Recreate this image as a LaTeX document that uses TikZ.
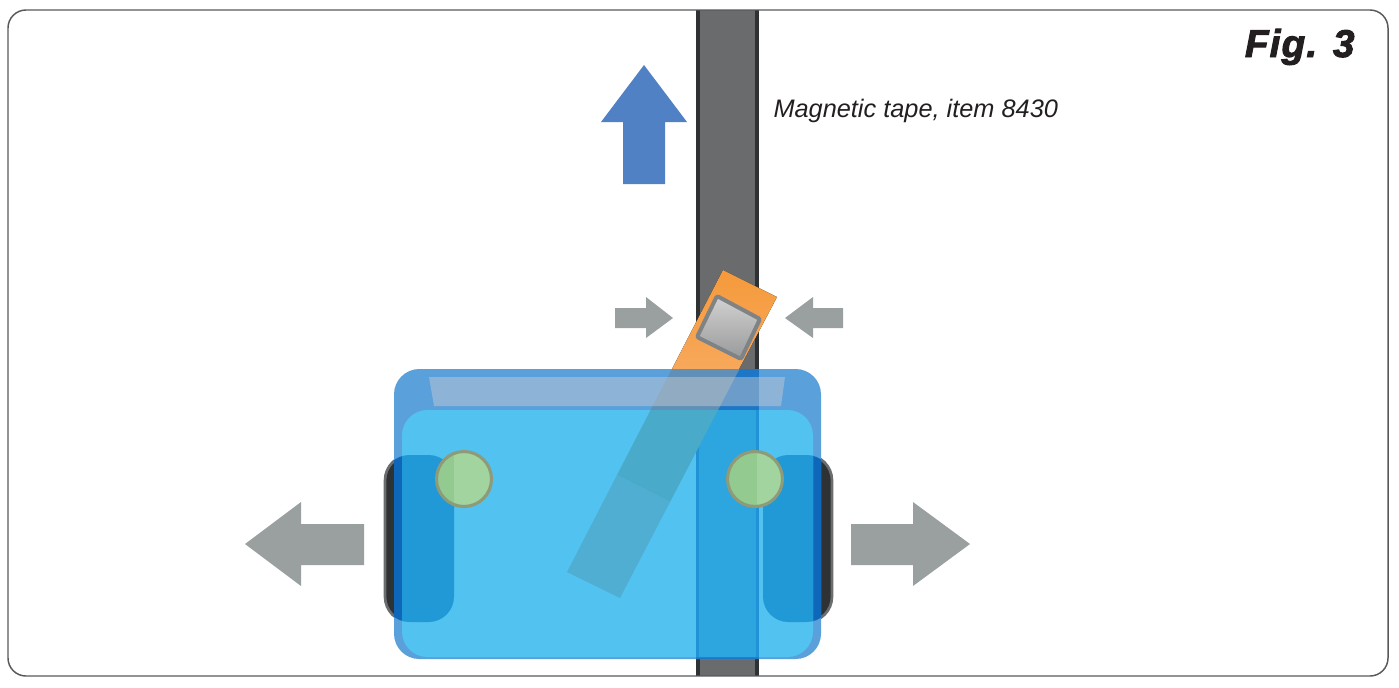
\documentclass[tikz,border=0pt]{standalone}
\usepackage{fontspec}
\setmainfont{Liberation Sans}
\definecolor{framegrey}{HTML}{58595B}
\definecolor{tapegrey}{HTML}{696B6C}
\definecolor{tapedark}{HTML}{2F3234}
\definecolor{tabedge}{HTML}{6C6D6E}
\definecolor{arrowgrey}{HTML}{9A9FA0}
\definecolor{arrowblue}{HTML}{4F81C4}
\definecolor{bodyouter}{HTML}{5AA0DB}
\definecolor{bodyinner}{HTML}{52C2F0}
\definecolor{tapeouter}{HTML}{1E76C6}
\definecolor{tapeinner}{HTML}{2DA5DF}
\definecolor{tapeline}{HTML}{1F93D5}
\definecolor{tabouter}{HTML}{0F67B9}
\definecolor{tabinner}{HTML}{2099D6}
\definecolor{strapouter}{HTML}{6090B8}
\definecolor{strapupper}{HTML}{49AAC9}
\definecolor{straplower}{HTML}{50AED3}
\definecolor{straptop}{HTML}{F59A3C}
\definecolor{strapbottom}{HTML}{F7A85A}
\definecolor{dotfill}{HTML}{A1D49E}
\definecolor{dotshade}{HTML}{93CA90}
\definecolor{dotedge}{HTML}{8E9A78}
\definecolor{sensoredge}{HTML}{808386}
\definecolor{sensortop}{HTML}{D2D2D2}
\definecolor{sensorbottom}{HTML}{98999A}
\definecolor{glare}{HTML}{CCCCD0}
\definecolor{inktext}{HTML}{231F20}
\tikzset{every picture/.style={line width=0.75pt}}
\tikzset{
  greyarrow/.style={fill=arrowgrey},
  tabshape/.style={fill=tapedark,draw=tabedge,line width=2pt,rounded corners=19pt},
  bodycorner/.style={rounded corners=19pt},
  dotshape/.style={draw=dotedge,line width=2.3pt}
}

\begin{document}
\begin{tikzpicture}[x=0.75pt,y=0.75pt,yscale=-1,xscale=1]
	\useasboundingbox (0,0) rectangle (1399,687);

	%Shape: Tape
	\fill[tapedark] (696,10) rectangle (759,676);
	\fill[tapegrey] (700,10) rectangle (755,676);
	%Shape: Frame
	\draw[framegrey,line width=1.1pt,rounded corners=13.5pt] (8,10) rectangle (1388,676);

	%Shape: Arrows
	\fill[arrowblue] (644,65) -- (687,122) -- (665,122) -- (665,184) -- (623,184) -- (623,122) -- (601,122) -- cycle;
	\fill[greyarrow] (245,544) -- (301,502) -- (301,524) -- (364,524) -- (364,565) -- (301,565) -- (301,586) -- cycle;
	\fill[greyarrow] (970,544) -- (913,502) -- (913,524) -- (851,524) -- (851,565) -- (913,565) -- (913,586) -- cycle;
	\fill[greyarrow] (673,318) -- (646,297) -- (646,308) -- (615,308) -- (615,328) -- (646,328) -- (646,338) -- cycle;
	\fill[greyarrow] (785,318) -- (813,297) -- (813,308) -- (843,308) -- (843,328) -- (813,328) -- (813,338) -- cycle;

	%Shape: Side tabs
	\draw[tabshape] (385,455) rectangle (454,622);
	\draw[tabshape] (763,455) rectangle (832,622);

	%Shape: Strap
	\fill[top color=straptop,bottom color=strapbottom] (723,270) -- (777,297) -- (739,369) -- (672,369) -- cycle;
	%Shape: Sensor
	\draw[draw=sensoredge,line width=3pt,top color=sensortop,bottom color=sensorbottom,rounded corners=1.5pt] (717,296) -- (760,319) -- (741,359) -- (697,337) -- cycle;

	%Shape: Body outer
	\fill[bodyouter,bodycorner] (394,369) rectangle (821,659);
	\begin{scope}
		\clip[bodycorner] (394,369) rectangle (821,659);
		\fill[tapeouter] (696,369) rectangle (759,659);
		\fill[tabouter,bodycorner] (384,455) rectangle (454,622);
		\fill[tabouter,bodycorner] (763,455) rectangle (832,622);
		\fill[strapouter] (723,270) -- (777,297) -- (620,598) -- (567,572) -- cycle;
	\end{scope}
	%Shape: Highlight
	\fill[glare,opacity=0.45] (429,377) -- (785,377) -- (781,406) -- (434,406) -- cycle;

	%Shape: Body inner
	\fill[bodyinner,bodycorner] (402,410) rectangle (813,657);
	\begin{scope}
		\clip[bodycorner] (402,410) rectangle (813,657);
		\fill[tapeline] (696,410) rectangle (759,657);
		\fill[tapeinner] (699,410) rectangle (756,657);
		\fill[tabinner,bodycorner] (384,455) rectangle (454,622);
		\fill[tabinner,bodycorner] (763,455) rectangle (832,622);
		\fill[strapupper] (723,270) -- (777,297) -- (670,502) -- (617,475) -- cycle;
		\fill[straplower] (617,475) -- (670,502) -- (620,598) -- (567,572) -- cycle;
	\end{scope}

	%Shape: Circles
	\fill[dotfill] (464,479) circle (27.5);
	\fill[dotfill] (755,479) circle (27.5);
	\begin{scope}
		\clip (464,479) circle (27.5);
		\fill[dotshade] (430,445) rectangle (454,515);
	\end{scope}
	\begin{scope}
		\clip (755,479) circle (27.5);
		\fill[dotshade] (720,445) rectangle (757,515);
	\end{scope}
	\draw[dotshape] (464,479) circle (27.5);
	\draw[dotshape] (755,479) circle (27.5);

	% Text Node
	\node[anchor=base west,inner sep=0pt,text=inktext,font=\fontsize{19}{21}\selectfont\itshape] (tapelabel) at (773,117) {Magnetic tape, item 8430};
	% Text Node
	\node[anchor=base east,inner sep=0pt,text=inktext,font=\fontsize{29}{32}\selectfont\bfseries\itshape\addfontfeature{FakeBold=2.5,LetterSpace=3}] (figlabel) at (1355,57) {Fig. 3};
\end{tikzpicture}
\end{document}
